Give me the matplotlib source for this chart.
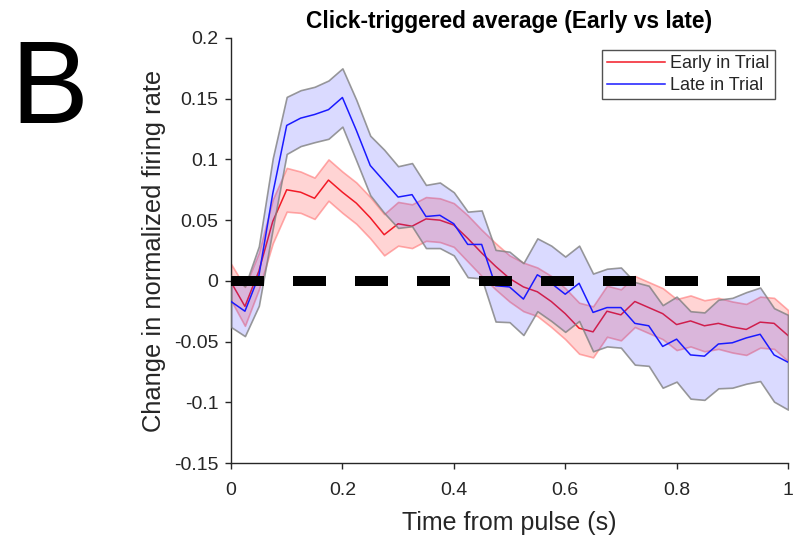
import numpy as np
import matplotlib
matplotlib.use("Agg")
import matplotlib.pyplot as plt

# ---- data ----
t = np.round(np.arange(0, 1.0001, 0.025), 3)

late_mean = [-0.017, -0.025, 0.004, 0.072, 0.128, 0.134, 0.137, 0.141, 0.151, 0.124,
             0.095, 0.082, 0.069, 0.071, 0.053, 0.054, 0.047, 0.030, 0.030, -0.004,
             -0.005, -0.015, 0.005, -0.002, -0.011, -0.002, -0.026, -0.022, -0.022, -0.035,
             -0.037, -0.054, -0.048, -0.061, -0.062, -0.052, -0.051, -0.047, -0.044, -0.061,
             -0.067]
late_sem = [0.021, 0.0205, 0.0245, 0.029, 0.0235, 0.023, 0.0228, 0.024, 0.024, 0.025,
            0.0245, 0.026, 0.0254, 0.026, 0.026, 0.027, 0.026, 0.027, 0.028, 0.0295,
            0.029, 0.0296, 0.030, 0.031, 0.031, 0.031, 0.032, 0.032, 0.033, 0.034,
            0.033, 0.034, 0.035, 0.036, 0.036, 0.0365, 0.037, 0.0377, 0.0385, 0.0385,
            0.039]

early_mean = [-0.001, -0.021, 0.008, 0.049, 0.075, 0.073, 0.068, 0.083, 0.073, 0.064,
              0.052, 0.038, 0.047, 0.045, 0.051, 0.050, 0.046, 0.035, 0.023, 0.012,
              0.002, -0.005, -0.009, -0.017, -0.027, -0.039, -0.042, -0.025, -0.028, -0.017,
              -0.022, -0.027, -0.036, -0.033, -0.037, -0.035, -0.038, -0.040, -0.034, -0.035,
              -0.045]
early_sem = [0.015, 0.016, 0.015, 0.018, 0.018, 0.017, 0.017, 0.017, 0.017, 0.017,
             0.017, 0.017, 0.018, 0.018, 0.018, 0.018, 0.018, 0.019, 0.019, 0.019,
             0.019, 0.020, 0.020, 0.021, 0.021, 0.021, 0.021, 0.021, 0.021, 0.021,
             0.021, 0.021, 0.021, 0.021, 0.021, 0.021, 0.021, 0.021, 0.021, 0.021,
             0.021]

ref_x = [0.0, 0.95]
ref_y = [0.0, 0.0]

series_labels = ["Early in Trial", "Late in Trial"]
xticks = [0, 0.2, 0.4, 0.6, 0.8, 1]
xtick_labels = ["0", "0.2", "0.4", "0.6", "0.8", "1"]
yticks = [-0.15, -0.1, -0.05, 0, 0.05, 0.1, 0.15, 0.2]
ytick_labels = ["-0.15", "-0.1", "-0.05", "0", "0.05", "0.1", "0.15", "0.2"]

# ---- plot ----
plt.rcParams['font.family'] = ['Liberation Sans', 'DejaVu Sans']
fig = plt.figure(figsize=(7.93, 5.44), dpi=100)
ax = fig.add_axes([231/793, 81/544, 557/793, 425/544])

em = np.array(early_mean); es = np.array(early_sem)
lm = np.array(late_mean); ls = np.array(late_sem)

ax.fill_between(t, em - es, em + es, facecolor=(1, 0, 0, 0.17),
                edgecolor=(1, 0.45, 0.45, 0.6), linewidth=1.2, zorder=1)
l1, = ax.plot(t, em, color=(0.95, 0.1, 0.15), lw=1.1, zorder=2, label=series_labels[0])
ax.fill_between(t, lm - ls, lm + ls, facecolor=(0.2, 0.2, 1, 0.18),
                edgecolor=(0.5, 0.5, 0.5, 0.8), linewidth=1.2, zorder=3)
l2, = ax.plot(t, lm, color=(0.1, 0.1, 1.0), lw=1.1, zorder=4, label=series_labels[1])

ax.plot(ref_x, ref_y, color='black', lw=7.2, dashes=(3.3, 2.9),
        solid_capstyle='butt', dash_capstyle='butt', zorder=5)

ax.set_xlim(0, 1)
ax.set_ylim(-0.15, 0.2)
ax.set_xticks(xticks)
ax.set_xticklabels(xtick_labels)
ax.set_yticks(yticks)
ax.set_yticklabels(ytick_labels)
ax.tick_params(direction='out', length=4, width=1, colors='#262626', labelsize=14)
ax.tick_params(axis='x', pad=10)
ax.tick_params(axis='y', pad=5)
for s in ['top', 'right']:
    ax.spines[s].set_visible(False)
for s in ['left', 'bottom']:
    ax.spines[s].set_color('#262626')
    ax.spines[s].set_linewidth(1)

ax.set_xlabel("Time from pulse (s)", fontsize=18, color='#262626', labelpad=8)
ax.set_ylabel("Change in normalized firing rate", fontsize=18.4, color='#262626', labelpad=6)
ax.set_title("Click-triggered average (Early vs late)", fontsize=16.4,
             fontweight='bold', color='black', pad=7)

leg = ax.legend(handles=[l1, l2], loc='upper right', bbox_to_anchor=(0.977, 0.972),
                borderaxespad=0, fontsize=13, frameon=True, fancybox=False,
                handlelength=3.2, handletextpad=0.3, borderpad=0.3, labelspacing=0.25)
leg.get_frame().set_edgecolor('#262626')
leg.get_frame().set_linewidth(1)
for txt in leg.get_texts():
    txt.set_color('#262626')

fig.text(10/793, 1 - 123/544, "B", fontsize=84, color='black', ha='left', va='baseline')

fig.savefig("out.png", dpi=100)
